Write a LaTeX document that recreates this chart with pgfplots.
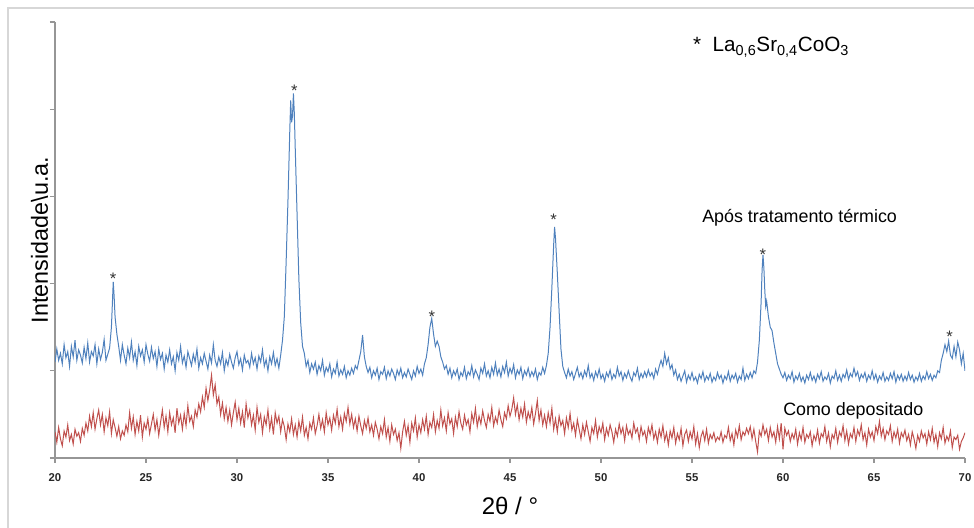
\documentclass[border=0pt]{standalone}
\usepackage{fontspec}
\setmainfont{Liberation Sans}
\usepackage{pgfplots}
\pgfplotsset{compat=1.18}
\definecolor{xrdblue}{RGB}{79,129,189}
\definecolor{xrdred}{RGB}{192,80,77}
\definecolor{axgray}{RGB}{150,150,150}
\definecolor{framegray}{RGB}{215,215,215}

\begin{document}
\begin{tikzpicture}
\path[use as bounding box] (0pt,0pt) rectangle (730.5pt,396pt);
\draw[framegray, line width=1pt] (6pt,0pt) -- (6pt,390pt) -- (730.5pt,390pt);
\begin{axis}[
    at={(41.25pt,52.5pt)}, anchor=south west,
    scale only axis, width=682.5pt, height=327pt,
    xmin=20, xmax=70, ymin=0, ymax=5,
    axis x line=bottom, axis y line=left,
    axis line style={-, draw=axgray, line width=0.8pt},
    xtick={20,25,...,70}, ytick={0,1,...,5}, yticklabels={},
    tick align=outside, major tick length=3.75pt,
    tick style={draw=axgray, line width=0.8pt},
    /pgf/number format/assume math mode=true,
    xticklabel style={font=\bfseries\fontsize{8.5}{9}\selectfont, text=black!85, yshift=-4.5pt},
    xlabel={2θ / °},
    ylabel={Intensidade\textbackslash u.a.},
    xlabel style={font=\fontsize{18}{20}\selectfont, at={(axis description cs:0.5,-0.1307)}, anchor=base},
    ylabel style={font=\fontsize{17.5}{20}\selectfont, at={(axis description cs:-0.0077,0.5)}, anchor=base},
]
% apos tratamento termico
\addplot[xrdblue, line width=0.75pt] coordinates {
(20.0,1.10) (20.1,1.25) (20.2,1.12) (20.3,1.20) (20.4,1.08) (20.5,1.30) (20.6,1.15) (20.7,1.22) (20.8,1.05) (20.9,1.28)
(21.0,1.16) (21.1,1.35) (21.2,1.12) (21.3,1.24) (21.4,1.18) (21.5,1.09) (21.6,1.27) (21.7,1.14) (21.8,1.32) (21.9,1.10)
(22.0,1.22) (22.1,1.17) (22.2,1.30) (22.3,1.08) (22.4,1.25) (22.5,1.13) (22.6,1.21) (22.7,1.36) (22.8,1.12) (22.9,1.19)
(23.0,1.26) (23.1,1.50) (23.2,2.02) (23.25,1.85) (23.3,1.62) (23.4,1.42) (23.5,1.28) (23.6,1.12)
(23.7,1.30) (23.8,1.18) (23.9,1.08) (24.0,1.26) (24.1,1.15) (24.2,1.33) (24.3,1.12) (24.4,1.22) (24.5,1.06) (24.6,1.28)
(24.7,1.17) (24.8,1.24) (24.9,1.10) (25.0,1.30) (25.1,1.19) (25.2,1.11) (25.3,1.27) (25.4,1.14) (25.5,1.22) (25.6,1.05)
(25.7,1.25) (25.8,1.13) (25.9,1.20) (26.0,1.02) (26.1,1.18) (26.2,1.10) (26.3,1.24) (26.4,1.08) (26.5,1.16) (26.6,1.00)
(26.7,1.21) (26.8,1.12) (26.9,1.28) (27.0,1.09) (27.1,1.17) (27.2,1.04) (27.3,1.22) (27.4,1.14) (27.5,1.06) (27.6,1.19)
(27.7,1.10) (27.8,1.25) (27.9,1.03) (28.0,1.15) (28.1,1.08) (28.2,1.20) (28.3,1.11) (28.4,1.02) (28.5,1.18) (28.6,1.09)
(28.7,1.30) (28.8,1.12) (28.9,1.05) (29.0,1.16) (29.1,1.08) (29.2,1.21) (29.3,1.00) (29.4,1.13) (29.5,1.06) (29.6,1.19)
(29.7,1.10) (29.8,1.03) (29.9,1.15) (30.0,1.22) (30.1,1.07) (30.2,1.14) (30.3,1.01) (30.4,1.18) (30.5,1.09) (30.6,1.12)
(30.7,1.04) (30.8,1.20) (30.9,1.08) (31.0,1.15) (31.1,1.02) (31.2,1.17) (31.3,1.10) (31.4,1.24) (31.5,1.05) (31.6,1.13)
(31.7,1.00) (31.8,1.16) (31.9,1.08) (32.0,1.21) (32.1,1.06) (32.2,1.14) (32.3,1.03) (32.4,1.18)
(32.5,1.35) (32.6,1.62) (32.7,2.25) (32.8,2.95) (32.9,3.75) (32.95,4.10) (33.0,3.85) (33.05,3.92) (33.1,4.18) (33.15,3.95)
(33.2,3.55) (33.3,2.80) (33.4,2.05) (33.5,1.55) (33.6,1.28) (33.7,1.20)
(33.8,1.05) (33.9,1.12) (34.0,0.98) (34.1,1.08) (34.2,1.02) (34.3,1.10) (34.4,0.96) (34.5,1.06) (34.6,1.00) (34.7,1.12)
(34.8,0.95) (34.9,1.04) (35.0,0.99) (35.1,1.08) (35.2,0.93) (35.3,1.02) (35.4,0.97) (35.5,1.10) (35.6,0.94) (35.7,1.01)
(35.8,0.96) (35.9,1.05) (36.0,0.92) (36.1,1.00) (36.2,0.95) (36.3,1.03) (36.4,0.97) (36.5,1.06) (36.6,1.02) (36.7,1.12)
(36.8,1.22) (36.9,1.41) (37.0,1.16) (37.1,1.05) (37.2,0.98) (37.3,1.04) (37.4,0.92) (37.5,1.00) (37.6,0.95) (37.7,1.03)
(37.8,0.90) (37.9,0.99) (38.0,0.96) (38.1,1.04) (38.2,0.91) (38.3,1.00) (38.4,0.94) (38.5,1.02) (38.6,0.97) (38.7,0.90)
(38.8,1.01) (38.9,0.95) (39.0,1.03) (39.1,0.92) (39.2,0.98) (39.3,0.93) (39.4,1.02) (39.5,0.96) (39.6,0.90) (39.7,1.00)
(39.8,0.94) (39.9,1.05) (40.0,0.97) (40.1,1.02) (40.2,0.95) (40.3,1.08)
(40.4,1.15) (40.5,1.30) (40.6,1.50) (40.7,1.60) (40.8,1.42) (40.9,1.28) (41.0,1.34) (41.1,1.28) (41.2,1.16) (41.3,1.10) (41.4,1.02)
(41.5,1.06) (41.6,0.96) (41.7,1.03) (41.8,0.92) (41.9,1.00) (42.0,0.95) (42.1,1.02) (42.2,0.90) (42.3,0.98) (42.4,0.94)
(42.5,1.04) (42.6,0.91) (42.7,0.99) (42.8,0.95) (42.9,1.06) (43.0,0.93) (43.1,1.01) (43.2,0.96) (43.3,0.90) (43.4,1.03)
(43.5,0.97) (43.6,1.08) (43.7,0.94) (43.8,1.00) (43.9,0.92) (44.0,1.04) (44.1,0.96) (44.2,1.09) (44.3,0.95) (44.4,1.02)
(44.5,0.93) (44.6,1.05) (44.7,0.98) (44.8,1.10) (44.9,0.94) (45.0,1.03) (45.1,0.97) (45.2,1.07) (45.3,0.92) (45.4,1.01)
(45.5,0.96) (45.6,1.04) (45.7,0.91) (45.8,1.00) (45.9,0.95) (46.0,1.03) (46.1,0.93) (46.2,0.99) (46.3,0.94) (46.4,1.02)
(46.5,0.90) (46.6,0.98) (46.7,0.95) (46.8,1.04) (46.9,0.97) (47.0,1.06)
(47.1,1.20) (47.2,1.50) (47.3,1.95) (47.4,2.45) (47.45,2.65) (47.5,2.52) (47.6,2.12) (47.7,1.68) (47.8,1.25) (47.9,1.05)
(48.0,0.98) (48.1,0.92) (48.2,1.02) (48.3,0.94) (48.4,0.99) (48.5,0.90) (48.6,0.97) (48.7,1.04) (48.8,0.93) (48.9,0.98)
(49.0,0.91) (49.1,1.00) (49.2,0.94) (49.3,1.06) (49.4,0.92) (49.5,0.97) (49.6,0.89) (49.7,0.99) (49.8,0.93) (49.9,1.02)
(50.0,0.91) (50.1,0.96) (50.2,0.88) (50.3,0.98) (50.4,0.93) (50.5,1.01) (50.6,0.90) (50.7,0.96) (50.8,0.92) (50.9,1.04)
(51.0,0.94) (51.1,0.99) (51.2,0.89) (51.3,0.97) (51.4,0.92) (51.5,1.00) (51.6,0.93) (51.7,0.88) (51.8,0.98) (51.9,0.94)
(52.0,1.03) (52.1,0.90) (52.2,0.97) (52.3,0.92) (52.4,0.99) (52.5,0.93) (52.6,1.01) (52.7,0.94) (52.8,0.98) (52.9,0.91)
(53.0,1.02) (53.1,0.96) (53.2,1.05) (53.3,1.12) (53.4,1.05) (53.5,1.20) (53.6,1.08) (53.7,1.15) (53.8,1.02) (53.9,1.07)
(54.0,0.95) (54.1,1.01) (54.2,0.90) (54.3,0.96) (54.4,0.88) (54.5,0.94) (54.6,1.00) (54.7,0.87) (54.8,0.95) (54.9,0.90)
(55.0,0.98) (55.1,0.89) (55.2,0.93) (55.3,0.86) (55.4,0.96) (55.5,0.91) (55.6,0.99) (55.7,0.88) (55.8,0.94) (55.9,0.90)
(56.0,0.97) (56.1,0.87) (56.2,0.93) (56.3,0.89) (56.4,0.98) (56.5,0.91) (56.6,0.95) (56.7,0.86) (56.8,0.94) (56.9,0.90)
(57.0,0.99) (57.1,0.88) (57.2,0.95) (57.3,0.91) (57.4,0.97) (57.5,0.87) (57.6,0.94) (57.7,0.90) (57.8,1.03) (57.9,0.89)
(58.0,0.96) (58.1,0.91) (58.2,0.98) (58.3,0.92) (58.4,1.00) (58.5,0.97)
(58.6,1.10) (58.7,1.35) (58.8,1.80) (58.85,2.15) (58.9,2.33) (58.95,2.18) (59.0,1.92) (59.05,1.74) (59.1,1.80) (59.2,1.62)
(59.3,1.50) (59.4,1.46) (59.5,1.32) (59.6,1.20) (59.7,1.08) (59.8,1.02) (59.9,0.96)
(60.0,0.92) (60.1,0.98) (60.2,0.89) (60.3,0.95) (60.4,0.91) (60.5,0.99) (60.6,0.87) (60.7,0.94) (60.8,0.90) (60.9,0.97)
(61.0,0.88) (61.1,0.93) (61.2,0.86) (61.3,0.95) (61.4,0.90) (61.5,0.98) (61.6,0.89) (61.7,0.94) (61.8,0.87) (61.9,0.96)
(62.0,0.91) (62.1,0.99) (62.2,0.88) (62.3,0.93) (62.4,0.90) (62.5,0.97) (62.6,0.86) (62.7,0.94) (62.8,0.91) (62.9,1.00)
(63.0,0.89) (63.1,0.95) (63.2,0.88) (63.3,0.96) (63.4,0.92) (63.5,1.01) (63.6,0.90) (63.7,0.97) (63.8,0.93) (63.9,1.03)
(64.0,0.94) (64.1,0.99) (64.2,0.89) (64.3,0.96) (64.4,0.92) (64.5,0.98) (64.6,0.88) (64.7,0.95) (64.8,0.91) (64.9,1.00)
(65.0,0.90) (65.1,0.96) (65.2,0.87) (65.3,0.94) (65.4,0.90) (65.5,0.98) (65.6,0.88) (65.7,0.93) (65.8,0.89) (65.9,0.97)
(66.0,0.91) (66.1,0.99) (66.2,0.87) (66.3,0.95) (66.4,0.90) (66.5,0.96) (66.6,0.88) (66.7,0.94) (66.8,0.89) (66.9,0.98)
(67.0,0.90) (67.1,0.95) (67.2,0.87) (67.3,0.93) (67.4,0.89) (67.5,0.97) (67.6,0.88) (67.7,0.94) (67.8,0.90) (67.9,0.99)
(68.0,0.91) (68.1,0.96) (68.2,0.89) (68.3,0.95) (68.4,0.92) (68.5,1.00) (68.6,0.98)
(68.7,1.12) (68.8,1.20) (68.9,1.30) (69.0,1.22) (69.1,1.34) (69.2,1.18) (69.3,1.14) (69.4,1.28) (69.5,1.16) (69.6,1.33)
(69.7,1.24) (69.8,1.08) (69.9,1.20) (70.0,1.00)
};
% como depositado
\addplot[xrdred, line width=0.75pt] coordinates {
(20.0,0.30) (20.1,0.18) (20.2,0.35) (20.3,0.22) (20.4,0.14) (20.5,0.31) (20.6,0.24) (20.7,0.38) (20.8,0.20) (20.9,0.27)
(21.0,0.16) (21.1,0.33) (21.2,0.25) (21.3,0.29) (21.4,0.19) (21.5,0.34) (21.6,0.26) (21.7,0.40) (21.8,0.31) (21.9,0.48)
(22.0,0.36) (22.1,0.52) (22.2,0.33) (22.3,0.45) (22.4,0.55) (22.5,0.38) (22.6,0.50) (22.7,0.30) (22.8,0.46) (22.9,0.37)
(23.0,0.53) (23.1,0.28) (23.2,0.44) (23.3,0.35) (23.4,0.25) (23.5,0.36) (23.6,0.22) (23.7,0.31) (23.8,0.26) (23.9,0.38)
(24.0,0.30) (24.1,0.52) (24.2,0.34) (24.3,0.47) (24.4,0.27) (24.5,0.42) (24.6,0.31) (24.7,0.49) (24.8,0.24) (24.9,0.40)
(25.0,0.33) (25.1,0.45) (25.2,0.28) (25.3,0.39) (25.4,0.50) (25.5,0.32) (25.6,0.44) (25.7,0.26) (25.8,0.41) (25.9,0.55)
(26.0,0.35) (26.1,0.48) (26.2,0.30) (26.3,0.52) (26.4,0.38) (26.5,0.46) (26.6,0.29) (26.7,0.57) (26.8,0.40) (26.9,0.49)
(27.0,0.33) (27.1,0.51) (27.2,0.37) (27.3,0.60) (27.4,0.42) (27.5,0.48) (27.6,0.36) (27.7,0.55) (27.8,0.47) (27.9,0.62)
(28.0,0.53) (28.1,0.70) (28.2,0.58) (28.3,0.80) (28.4,0.66) (28.5,0.78) (28.6,0.95) (28.7,0.72) (28.8,0.84) (28.9,0.62)
(29.0,0.70) (29.1,0.50) (29.2,0.63) (29.3,0.45) (29.4,0.58) (29.5,0.42) (29.6,0.55) (29.7,0.38) (29.8,0.52) (29.9,0.64)
(30.0,0.44) (30.1,0.57) (30.2,0.40) (30.3,0.53) (30.4,0.35) (30.5,0.62) (30.6,0.46) (30.7,0.55) (30.8,0.38) (30.9,0.49)
(31.0,0.32) (31.1,0.58) (31.2,0.41) (31.3,0.50) (31.4,0.29) (31.5,0.47) (31.6,0.38) (31.7,0.55) (31.8,0.33) (31.9,0.46)
(32.0,0.27) (32.1,0.52) (32.2,0.40) (32.3,0.48) (32.4,0.30) (32.5,0.44) (32.6,0.36) (32.7,0.21) (32.8,0.39) (32.9,0.30)
(33.0,0.45) (33.1,0.27) (33.2,0.38) (33.3,0.24) (33.4,0.42) (33.5,0.31) (33.6,0.47) (33.7,0.26) (33.8,0.35) (33.9,0.22)
(34.0,0.40) (34.1,0.33) (34.2,0.46) (34.3,0.28) (34.4,0.37) (34.5,0.50) (34.6,0.34) (34.7,0.44) (34.8,0.30) (34.9,0.52)
(35.0,0.38) (35.1,0.46) (35.2,0.32) (35.3,0.49) (35.4,0.40) (35.5,0.56) (35.6,0.36) (35.7,0.47) (35.8,0.33) (35.9,0.51)
(36.0,0.42) (36.1,0.58) (36.2,0.39) (36.3,0.50) (36.4,0.35) (36.5,0.45) (36.6,0.31) (36.7,0.48) (36.8,0.37) (36.9,0.28)
(37.0,0.43) (37.1,0.34) (37.2,0.46) (37.3,0.30) (37.4,0.38) (37.5,0.26) (37.6,0.41) (37.7,0.33) (37.8,0.22) (37.9,0.36)
(38.0,0.28) (38.1,0.44) (38.2,0.24) (38.3,0.35) (38.4,0.19) (38.5,0.38) (38.6,0.27) (38.7,0.33) (38.8,0.20) (38.9,0.29)
(39.0,0.11) (39.1,0.30) (39.2,0.42) (39.3,0.26) (39.4,0.37) (39.5,0.18) (39.6,0.40) (39.7,0.31) (39.8,0.46) (39.9,0.24)
(40.0,0.38) (40.1,0.29) (40.2,0.44) (40.3,0.33) (40.4,0.48) (40.5,0.27) (40.6,0.41) (40.7,0.35) (40.8,0.50) (40.9,0.30)
(41.0,0.43) (41.1,0.34) (41.2,0.55) (41.3,0.37) (41.4,0.46) (41.5,0.31) (41.6,0.52) (41.7,0.39) (41.8,0.45) (41.9,0.28)
(42.0,0.47) (42.1,0.36) (42.2,0.53) (42.3,0.40) (42.4,0.33) (42.5,0.49) (42.6,0.38) (42.7,0.44) (42.8,0.30) (42.9,0.51)
(43.0,0.41) (43.1,0.57) (43.2,0.36) (43.3,0.48) (43.4,0.39) (43.5,0.54) (43.6,0.43) (43.7,0.35) (43.8,0.50) (43.9,0.42)
(44.0,0.58) (44.1,0.37) (44.2,0.47) (44.3,0.40) (44.4,0.55) (44.5,0.44) (44.6,0.36) (44.7,0.52) (44.8,0.45) (44.9,0.60)
(45.0,0.48) (45.1,0.56) (45.2,0.69) (45.3,0.50) (45.4,0.61) (45.5,0.44) (45.6,0.57) (45.7,0.47) (45.8,0.62) (45.9,0.41)
(46.0,0.53) (46.1,0.45) (46.2,0.58) (46.3,0.39) (46.4,0.51) (46.5,0.66) (46.6,0.43) (46.7,0.55) (46.8,0.38) (46.9,0.49)
(47.0,0.36) (47.1,0.52) (47.2,0.40) (47.3,0.57) (47.4,0.33) (47.5,0.45) (47.6,0.30) (47.7,0.48) (47.8,0.37) (47.9,0.43)
(48.0,0.28) (48.1,0.46) (48.2,0.35) (48.3,0.51) (48.4,0.32) (48.5,0.40) (48.6,0.26) (48.7,0.44) (48.8,0.33) (48.9,0.22)
(49.0,0.38) (49.1,0.27) (49.2,0.41) (49.3,0.30) (49.4,0.19) (49.5,0.35) (49.6,0.28) (49.7,0.43) (49.8,0.24) (49.9,0.36)
(50.0,0.29) (50.1,0.40) (50.2,0.21) (50.3,0.34) (50.4,0.26) (50.5,0.38) (50.6,0.30) (50.7,0.18) (50.8,0.33) (50.9,0.25)
(51.0,0.39) (51.1,0.28) (51.2,0.35) (51.3,0.20) (51.4,0.37) (51.5,0.27) (51.6,0.32) (51.7,0.23) (51.8,0.40) (51.9,0.29)
(52.0,0.34) (52.1,0.21) (52.2,0.36) (52.3,0.26) (52.4,0.31) (52.5,0.19) (52.6,0.35) (52.7,0.27) (52.8,0.38) (52.9,0.22)
(53.0,0.30) (53.1,0.18) (53.2,0.33) (53.3,0.24) (53.4,0.37) (53.5,0.20) (53.6,0.29) (53.7,0.15) (53.8,0.31) (53.9,0.23)
(54.0,0.35) (54.1,0.17) (54.2,0.28) (54.3,0.21) (54.4,0.34) (54.5,0.14) (54.6,0.27) (54.7,0.32) (54.8,0.19) (54.9,0.30)
(55.0,0.22) (55.1,0.36) (55.2,0.16) (55.3,0.28) (55.4,0.12) (55.5,0.25) (55.6,0.31) (55.7,0.20) (55.8,0.33) (55.9,0.17)
(56.0,0.27) (56.1,0.22) (56.2,0.29) (56.3,0.19) (56.4,0.24) (56.5,0.21) (56.6,0.30) (56.7,0.18) (56.8,0.26) (56.9,0.23)
(57.0,0.35) (57.1,0.20) (57.2,0.28) (57.3,0.15) (57.4,0.32) (57.5,0.24) (57.6,0.37) (57.7,0.21) (57.8,0.30) (57.9,0.26)
(58.0,0.34) (58.1,0.28) (58.2,0.36) (58.3,0.22) (58.4,0.33) (58.5,0.19) (58.6,0.07) (58.7,0.31) (58.8,0.25) (58.9,0.38)
(59.0,0.27) (59.1,0.33) (59.2,0.20) (59.3,0.35) (59.4,0.24) (59.5,0.30) (59.6,0.18) (59.7,0.36) (59.8,0.22) (59.9,0.40)
(60.0,0.10) (60.1,0.34) (60.2,0.26) (60.3,0.31) (60.4,0.19) (60.5,0.28) (60.6,0.22) (60.7,0.33) (60.8,0.16) (60.9,0.29)
(61.0,0.21) (61.1,0.35) (61.2,0.18) (61.3,0.27) (61.4,0.23) (61.5,0.30) (61.6,0.14) (61.7,0.26) (61.8,0.20) (61.9,0.32)
(62.0,0.17) (62.1,0.28) (62.2,0.24) (62.3,0.36) (62.4,0.19) (62.5,0.29) (62.6,0.13) (62.7,0.27) (62.8,0.22) (62.9,0.34)
(63.0,0.18) (63.1,0.30) (63.2,0.25) (63.3,0.37) (63.4,0.20) (63.5,0.31) (63.6,0.16) (63.7,0.28) (63.8,0.23) (63.9,0.35)
(64.0,0.19) (64.1,0.32) (64.2,0.26) (64.3,0.38) (64.4,0.21) (64.5,0.29) (64.6,0.15) (64.7,0.33) (64.8,0.24) (64.9,0.30)
(65.0,0.20) (65.1,0.36) (65.2,0.28) (65.3,0.42) (65.4,0.25) (65.5,0.34) (65.6,0.21) (65.7,0.31) (65.8,0.27) (65.9,0.37)
(66.0,0.19) (66.1,0.30) (66.2,0.23) (66.3,0.33) (66.4,0.17) (66.5,0.29) (66.6,0.24) (66.7,0.32) (66.8,0.20) (66.9,0.27)
(67.0,0.15) (67.1,0.30) (67.2,0.22) (67.3,0.11) (67.4,0.26) (67.5,0.19) (67.6,0.31) (67.7,0.23) (67.8,0.28) (67.9,0.16)
(68.0,0.30) (68.1,0.21) (68.2,0.34) (68.3,0.18) (68.4,0.27) (68.5,0.13) (68.6,0.29) (68.7,0.22) (68.8,0.35) (68.9,0.17)
(69.0,0.25) (69.1,0.20) (69.2,0.31) (69.3,0.12) (69.4,0.24) (69.5,0.21) (69.6,0.26) (69.7,0.10) (69.8,0.19) (69.9,0.23)
(70.0,0.29)
};
% peak markers
\begin{scope}[every node/.style={font=\fontsize{12.5}{13}\selectfont, text=black!80, anchor=base, inner sep=0pt}]
\node at (axis cs:23.2,1.99) {*};
\node at (axis cs:33.15,4.14) {*};
\node at (axis cs:40.7,1.55) {*};
\node at (axis cs:47.4,2.67) {*};
\node at (axis cs:58.9,2.26) {*};
\node at (axis cs:69.15,1.32) {*};
\end{scope}
\node[anchor=base west, inner sep=0pt, font=\fontsize{15.5}{17}\selectfont] at (axis cs:55.05,4.66)
    {*\ \ La\textsubscript{0,6}Sr\textsubscript{0,4}CoO\textsubscript{3}};
\node[anchor=base west, inner sep=0pt, font=\fontsize{13.4}{15}\selectfont] at (axis cs:55.55,2.695) {Após tratamento térmico};
\node[anchor=base west, inner sep=0pt, font=\fontsize{13.4}{15}\selectfont] at (axis cs:60.0,0.493) {Como depositado};
\end{axis}
\end{tikzpicture}
\end{document}
